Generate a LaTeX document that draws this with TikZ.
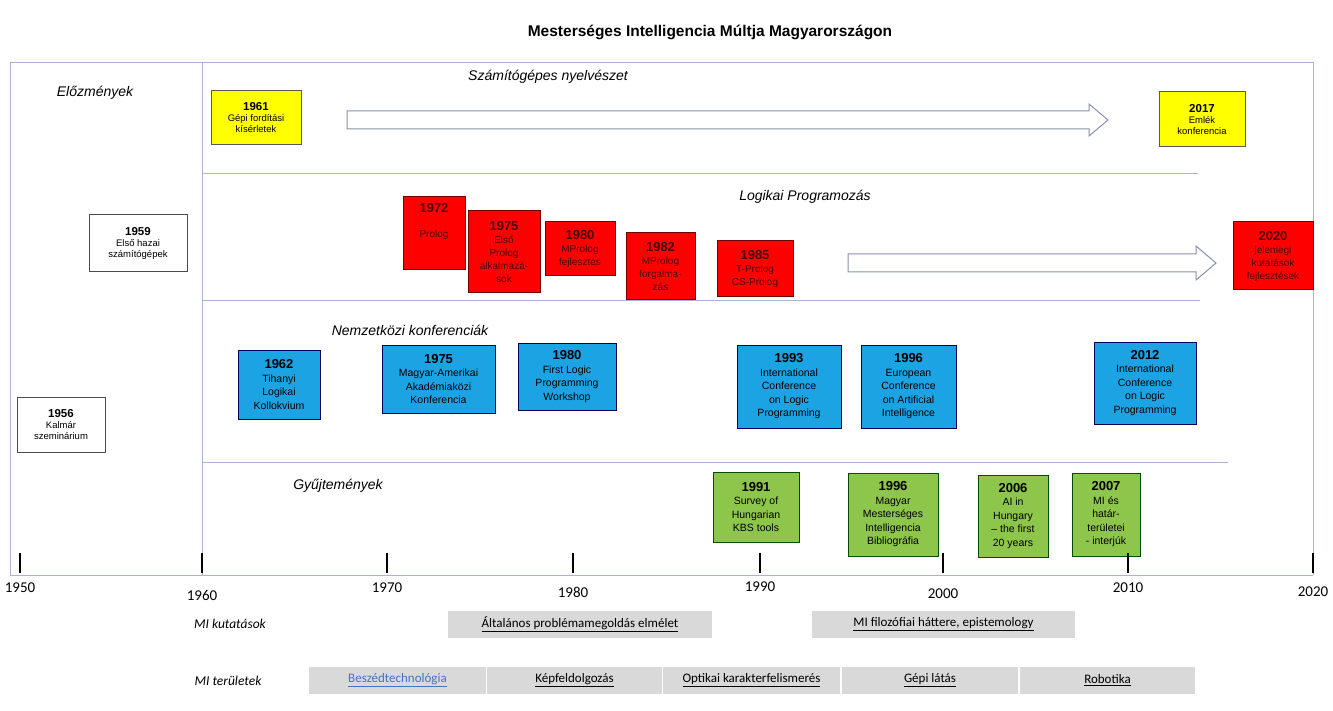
\documentclass[tikz,border=0pt]{standalone}
\usepackage{fontspec}
\setmainfont{Liberation Sans}
\newfontfamily\calfont{Carlito}
\definecolor{vonal}{HTML}{A9B5D0}
\definecolor{sarga}{HTML}{FFFF00}
\definecolor{piros}{HTML}{FF0000}
\definecolor{kek}{HTML}{1BA3E4}
\definecolor{zold}{HTML}{8DC64A}
\definecolor{sav}{HTML}{D9D9D9}
\definecolor{link}{HTML}{4472C4}
\newcommand\ev[1]{{\bfseries\fontsize{13}{15}\selectfont #1}}
\newcommand\kisev[1]{{\bfseries\fontsize{11.5}{12}\selectfont #1}}
\tikzset{
  doboz/.style={draw, line width=1pt, align=center, inner sep=1pt,
    font=\fontsize{10.5}{13.5}\selectfont},
  kisdoboz/.style={doboz, font=\fontsize{9.5}{11}\selectfont},
  sarga/.style={kisdoboz, fill=sarga, draw=black!65},
  feher/.style={kisdoboz, fill=white, draw=black!70},
  piros/.style={doboz, fill=piros, draw=red!45!black, text=red!30!black,
    font=\fontsize{10}{13}\selectfont},
  kek/.style={doboz, fill=kek, draw=blue!35!black},
  zold/.style={doboz, fill=zold, draw=green!30!black},
  szakasz/.style={font=\itshape\fontsize{14}{16}\selectfont},
  savlap/.style={fill=sav, minimum height=27pt, inner sep=0pt,
    font=\calfont\fontsize{13}{15}\selectfont},
  sorcim/.style={font=\calfont\itshape\fontsize{13.5}{15}\selectfont},
  evszam/.style={font=\calfont\fontsize{15}{17}\selectfont},
  ures/.style={draw=vonal!80!black, line width=1pt, fill=white}
}
\begin{document}
\begin{tikzpicture}[x=1pt,y=-1pt]
\useasboundingbox[fill=white] (0,0) rectangle (1333,711);
%cim
\node[font=\bfseries\fontsize{15.5}{18}\selectfont] (cim) at (710,32) {Mesterséges Intelligencia Múltja Magyarországon};
%keret
\draw[vonal] (10,62) -- (1313,62);
\draw[vonal] (10,62) -- (10,575);
\draw[vonal] (202,62) -- (202,575);
\draw[vonal] (1313,62) -- (1313,575);
\draw[vonal] (202,173) -- (1198,173);
\draw[vonal] (202,300) -- (1200,300);
\draw[vonal] (202,462) -- (1228,462);
%szakaszok
\node[szakasz] (elozmeny) at (95,93) {Előzmények};
\node[szakasz] (nyelv) at (548,77) {Számítógépes nyelvészet};
\node[szakasz] (logikai) at (805,197) {Logikai Programozás};
\node[szakasz] (nemzetkozi) at (410,330) {Nemzetközi konferenciák};
\node[szakasz] (gyujt) at (338,486) {Gyűjtemények};
%nyilak
\draw[ures] (347,111) -- (1089,111) -- (1089,104) -- (1108,120) -- (1089,136) -- (1089,129) -- (347,129) -- cycle;
\draw[ures] (848,254) -- (1196,254) -- (1196,246) -- (1216,263) -- (1196,280) -- (1196,272) -- (848,272) -- cycle;
%dobozok
\node[sarga, minimum width=90pt, minimum height=54pt] (s1961) at (256,118) {\kisev{1961}\\Gépi fordítási\\kísérletek};
\node[sarga, minimum width=86pt, minimum height=55pt] (s2017) at (1202,119.5) {\kisev{2017}\\Emlék\\konferencia};
\node[feher, minimum width=98pt, minimum height=57pt] (f1959) at (138,243.5) {\kisev{1959}\\Első hazai\\számítógépek};
\node[feher, minimum width=88pt, minimum height=55pt] (f1956) at (61,424.5) {\kisev{1956}\\Kalmár\\szeminárium};
\node[piros, minimum width=62pt, minimum height=73pt] (p1972) at (434,233.5) {\ev{1972}\\[12pt]Prolog\\[14pt]};
\node[piros, minimum width=72pt, minimum height=82pt] (p1975) at (504,252) {\ev{1975}\\Első\\Prolog\\alkalmazá-\\sok};
\node[piros, minimum width=70pt, minimum height=54pt] (p1980) at (580,249) {\ev{1980}\\MProlog\\fejlesztés};
\node[piros, minimum width=69pt, minimum height=67pt] (p1982) at (660.5,266.5) {\ev{1982}\\MProlog\\forgalma-\\zás};
\node[piros, minimum width=76pt, minimum height=56pt] (p1985) at (755,269) {\ev{1985}\\T-Prolog\\CS-Prolog};
\node[piros, minimum width=80pt, minimum height=68pt] (p2020) at (1273,256) {\ev{2020}\\jelenlegi\\kutatások\\fejlesztések};
\node[kek, minimum width=82pt, minimum height=69pt] (k1962) at (279,384.5) {\ev{1962}\\Tihanyi\\Logikai\\Kollokvium};
\node[kek, minimum width=113pt, minimum height=68pt] (k1975) at (438.5,379) {\ev{1975}\\Magyar-Amerikai\\Akadémiaközi\\Konferencia};
\node[kek, minimum width=98pt, minimum height=67pt] (k1980) at (567,376.5) {\ev{1980}\\First Logic\\Programming\\Workshop};
\node[kek, minimum width=104pt, minimum height=83pt] (k1993) at (789,386.5) {\ev{1993}\\International\\Conference\\on Logic\\Programming};
\node[kek, minimum width=95pt, minimum height=83pt] (k1996) at (908.5,386.5) {\ev{1996}\\European\\Conference\\on Artificial\\Intelligence};
\node[kek, minimum width=102pt, minimum height=82pt] (k2012) at (1145,383) {\ev{2012}\\International\\Conference\\on Logic\\Programming};
\node[zold, minimum width=86pt, minimum height=70pt] (z1991) at (756,507) {\ev{1991}\\Survey of\\Hungarian\\KBS tools};
\node[zold, minimum width=90pt, minimum height=83pt] (z1996) at (893,514.5) {\ev{1996}\\Magyar\\Mesterséges\\Intelligencia\\Bibliográfia};
\node[zold, minimum width=70pt, minimum height=82pt] (z2006) at (1013,516) {\ev{2006}\\AI in\\Hungary\\– the first\\20 years};
\node[zold, minimum width=68pt, minimum height=83pt] (z2007) at (1106,514.5) {\ev{2007}\\MI és\\határ-\\területei\\- interjúk};
%tengely
\draw[vonal, line width=1pt] (10,575) -- (1313,575);
\foreach \x/\ly/\evtiz in {20/588/1950, 202/595/1960, 387/588/1970, 573/592/1980, 760/587/1990, 943/594/2000, 1128/588/2010, 1313/592/2020}{
  \draw[line width=2pt] (\x,553) -- (\x,573);
  \node[evszam] (e\evtiz) at (\x,\ly) {\evtiz};
}
%savok
\node[sorcim] (kutatas) at (230,624) {MI kutatások};
\node[savlap, minimum width=264pt] (altalanos) at (580,624.5) {\underline{Általános problémamegoldás elmélet}};
\node[savlap, minimum width=263pt] (filozofia) at (943.5,624.5) {\underline{MI filozófiai háttere, epistemology}};
\node[sorcim] (terulet) at (228,681) {MI területek};
\node[savlap, minimum width=177pt] (beszed) at (397.5,680.5) {\textcolor{link}{\underline{Beszédtechnológia}}};
\node[savlap, minimum width=175pt] (kep) at (574.5,680.5) {\underline{Képfeldolgozás}};
\node[savlap, minimum width=177pt] (optikai) at (751.5,680.5) {\underline{Optikai karakterfelismerés}};
\node[savlap, minimum width=176pt] (gepi) at (930,680.5) {\underline{Gépi látás}};
\node[savlap, minimum width=175pt] (robot) at (1107.5,680.5) {\underline{Robotika}};
\end{tikzpicture}
\end{document}
